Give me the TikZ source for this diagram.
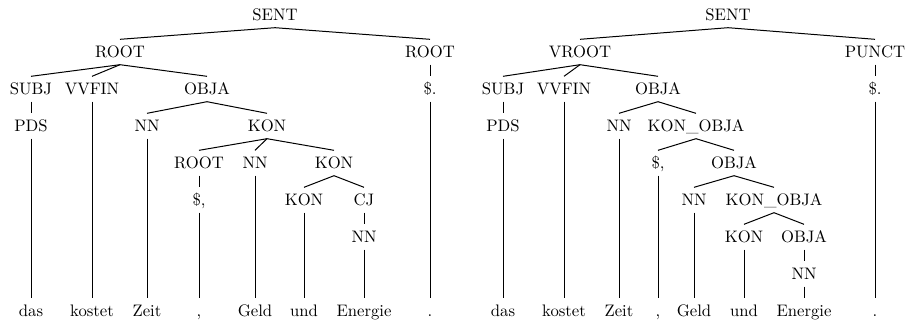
\documentclass[tikz,border=0pt]{standalone}
\begin{document}
\begin{tikzpicture}[x=0.6pt,y=-0.6pt,
  tn/.style={text height=6.83pt,text depth=0pt,inner xsep=1pt,inner ysep=4pt},
  edge/.style={line width=0.6pt}]
\useasboundingbox (0,0) rectangle (908,323);
% ---------------- left tree ----------------
\node[tn] (ls) at (275,15) {SENT};
\node[tn] (lr1) at (120,52) {ROOT};
\node[tn] (lr2) at (430,52) {ROOT};
\node[tn] (lsubj) at (31,89) {SUBJ};
\node[tn] (lvv) at (92,89) {VVFIN};
\node[tn] (lobja) at (207,89) {OBJA};
\node[tn] (lpd) at (430,89) {\$.};
\node[tn] (lpds) at (31,126) {PDS};
\node[tn] (lnn1) at (147,126) {NN};
\node[tn] (lkon1) at (267,126) {KON};
\node[tn] (lr3) at (199,163) {ROOT};
\node[tn] (lnn2) at (255,163) {NN};
\node[tn] (lkon2) at (334,163) {KON};
\node[tn] (lpc) at (199,200) {\$,};
\node[tn] (lkon3) at (304,200) {KON};
\node[tn] (lcj) at (364,200) {CJ};
\node[tn] (lnn3) at (364,237) {NN};
\node[tn] (lw1) at (31,311) {das};
\node[tn] (lw2) at (92,311) {kostet};
\node[tn] (lw3) at (147,311) {Zeit};
\node[tn] (lw4) at (199,311) {,};
\node[tn] (lw5) at (255,311) {Geld};
\node[tn] (lw6) at (304,311) {und};
\node[tn] (lw7) at (364,311) {Energie};
\node[tn] (lw8) at (430,311) {.};
\begin{scope}[edge]
\draw (ls.south) -- (lr1.north);
\draw (ls.south) -- (lr2.north);
\draw (lr1.south) -- (lsubj.north);
\draw (lr1.south) -- (lvv.north);
\draw (lr1.south) -- (lobja.north);
\draw (lr2.south) -- (lpd.north);
\draw (lsubj.south) -- (lpds.north);
\draw (lobja.south) -- (lnn1.north);
\draw (lobja.south) -- (lkon1.north);
\draw (lkon1.south) -- (lr3.north);
\draw (lkon1.south) -- (lnn2.north);
\draw (lkon1.south) -- (lkon2.north);
\draw (lr3.south) -- (lpc.north);
\draw (lkon2.south) -- (lkon3.north);
\draw (lkon2.south) -- (lcj.north);
\draw (lcj.south) -- (lnn3.north);
\draw (lpds.south) -- (lw1.north);
\draw (lvv.south) -- (lw2.north);
\draw (lnn1.south) -- (lw3.north);
\draw (lpc.south) -- (lw4.north);
\draw (lnn2.south) -- (lw5.north);
\draw (lkon3.south) -- (lw6.north);
\draw (lnn3.south) -- (lw7.north);
\draw (lpd.south) -- (lw8.north);
\end{scope}
% ---------------- right tree ----------------
\node[tn] (rs) at (728,15) {SENT};
\node[tn] (rvr) at (580,52) {VROOT};
\node[tn] (rpu) at (875,52) {PUNCT};
\node[tn] (rsubj) at (503,89) {SUBJ};
\node[tn] (rvv) at (564,89) {VVFIN};
\node[tn] (robja1) at (658,89) {OBJA};
\node[tn] (rpd) at (875,89) {\$.};
\node[tn] (rpds) at (503,126) {PDS};
\node[tn] (rnn1) at (619,126) {NN};
\node[tn] (rko1) at (696,126) {KON\_OBJA};
\node[tn] (rpc) at (658,163) {\$,};
\node[tn] (robja2) at (734,163) {OBJA};
\node[tn] (rnn2) at (694,200) {NN};
\node[tn] (rko2) at (774,200) {KON\_OBJA};
\node[tn] (rkon) at (744,237) {KON};
\node[tn] (robja3) at (804,237) {OBJA};
\node[tn] (rnn3) at (804,274) {NN};
\node[tn] (rw1) at (503,311) {das};
\node[tn] (rw2) at (564,311) {kostet};
\node[tn] (rw3) at (619,311) {Zeit};
\node[tn] (rw4) at (658,311) {,};
\node[tn] (rw5) at (694,311) {Geld};
\node[tn] (rw6) at (744,311) {und};
\node[tn] (rw7) at (804,311) {Energie};
\node[tn] (rw8) at (875,311) {.};
\begin{scope}[edge]
\draw (rs.south) -- (rvr.north);
\draw (rs.south) -- (rpu.north);
\draw (rvr.south) -- (rsubj.north);
\draw (rvr.south) -- (rvv.north);
\draw (rvr.south) -- (robja1.north);
\draw (rpu.south) -- (rpd.north);
\draw (rsubj.south) -- (rpds.north);
\draw (robja1.south) -- (rnn1.north);
\draw (robja1.south) -- (rko1.north);
\draw (rko1.south) -- (rpc.north);
\draw (rko1.south) -- (robja2.north);
\draw (robja2.south) -- (rnn2.north);
\draw (robja2.south) -- (rko2.north);
\draw (rko2.south) -- (rkon.north);
\draw (rko2.south) -- (robja3.north);
\draw (robja3.south) -- (rnn3.north);
\draw (rpds.south) -- (rw1.north);
\draw (rvv.south) -- (rw2.north);
\draw (rnn1.south) -- (rw3.north);
\draw (rpc.south) -- (rw4.north);
\draw (rnn2.south) -- (rw5.north);
\draw (rkon.south) -- (rw6.north);
\draw (rnn3.south) -- (rw7.north);
\draw (rpd.south) -- (rw8.north);
\end{scope}
\end{tikzpicture}
\end{document}
